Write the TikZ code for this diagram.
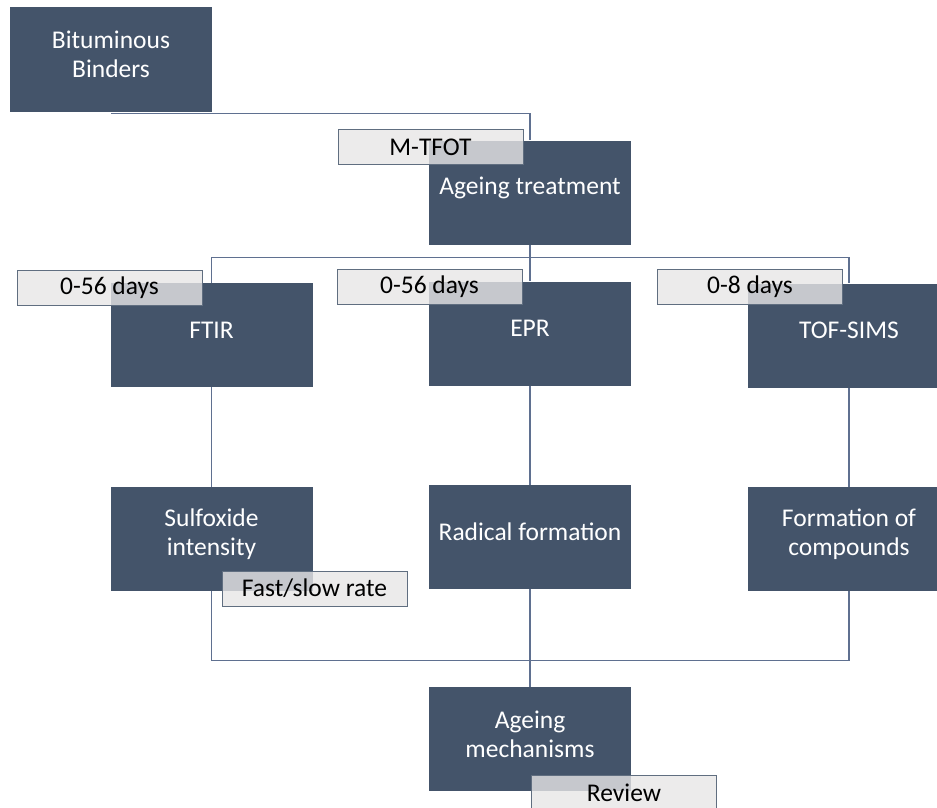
\documentclass[tikz,border=0pt]{standalone}
\usepackage{fontspec}
\setmainfont{Carlito}
\usetikzlibrary{calc}
\definecolor{slate}{HTML}{44546A}
\definecolor{tagfill}{HTML}{E7E6E6}
\definecolor{linkc}{HTML}{5F7090}
\tikzset{
  box/.style={fill=slate, minimum width=202pt, minimum height=104pt, inner sep=0pt, label={[boxtext]center:#1}},
  boxtext/.style={text=white, align=center, yshift=5pt, font=\fontsize{25.5}{29}\selectfont},
  tag/.style={draw=slate!85, line width=1pt, fill=tagfill, fill opacity=0.8, text opacity=1, minimum width=185pt, minimum height=35pt, inner sep=0pt, font=\fontsize{25.5}{29}\selectfont},
  link/.style={draw=linkc, line width=1.2pt},
}
\begin{document}
\begin{tikzpicture}[x=1pt, y=1pt]
      \clip (0,0) rectangle (937,-808);
      \node[box={Bituminous\\Binders}] (bind) at (111,-59.5) {};
      \node[box={Ageing treatment}] (treat) at (530,-192.5) {};
      \node[box=FTIR] (ftir) at (211.5,-335) {};
      \node[box=EPR] (epr) at (530,-333.5) {};
      \node[box=TOF-SIMS] (tof) at (849,-335.5) {};
      \node[box={Sulfoxide\\intensity}] (sulf) at (211.5,-539) {};
      \node[box={Radical formation}] (rad) at (530,-537) {};
      \node[box={Formation of\\compounds}] (comp) at (849,-539) {};
      \node[box={Ageing\\mechanisms}] (mech) at (530,-739) {};

      % duration / method tags
      \node[tag] (tfot) at ($(treat)+(-99.5,45.5)$) {M-TFOT};
      \node[tag] (days1) at ($(ftir)+(-102,47.5)$) {0-56 days};
      \node[tag] (days2) at ($(epr)+(-100.5,46.5)$) {0-56 days};
      \node[tag] (days3) at ($(tof)+(-99,48.5)$) {0-8 days};
      \node[tag] (rate) at ($(sulf)+(103,-49.5)$) {Fast/slow rate};
      \node[tag] (rev) at ($(mech)+(94,-53.5)$) {Review};

      \coordinate (split) at ($(treat.south)!0.34!(epr.north)$);
      \coordinate (join) at ($(rad.south)!0.73!(mech.north)$);

      \draw[link] (bind.south) ++(0,-2) -| (treat.north);
      \draw[link] (treat.south) -- (epr.north);
      \draw[link] (ftir.north) |- (split) -| (tof.north);
      \draw[link] (ftir) -- (sulf);
      \draw[link] (epr) -- (rad);
      \draw[link] (tof) -- (comp);
      \draw[link] (sulf.south) |- (join) -| (comp.south);
      \draw[link] (rad) -- (mech);
    \end{tikzpicture}
\end{document}
